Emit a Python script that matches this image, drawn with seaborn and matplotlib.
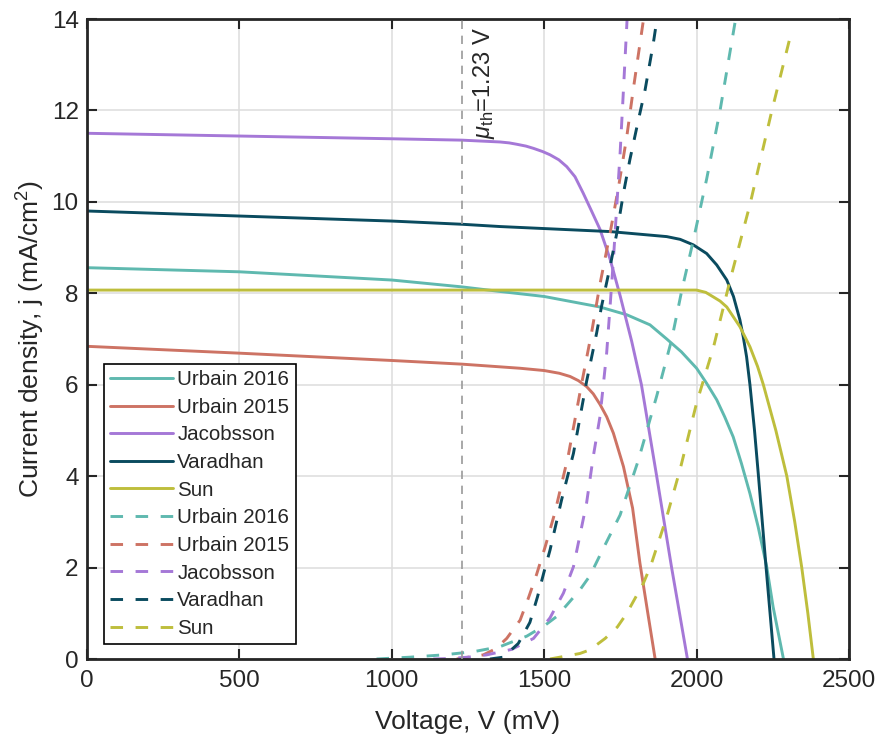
import matplotlib
matplotlib.use("Agg")
import matplotlib.pyplot as plt
import seaborn as sns
import pandas as pd

# ---------------- data ----------------
names = ["Urbain 2016", "Urbain 2015", "Jacobsson", "Varadhan", "Sun"]
colors = ["#5FB9AF", "#CD7364", "#A578D7", "#0A4B5F", "#BEBE3C"]

# PV (solid) curves: voltage (mV), current density (mA/cm2)
u16_pv_v = [0, 500, 1000, 1230, 1355, 1500, 1683, 1771, 1847, 1902, 1950, 2000, 2033, 2066, 2092, 2120, 2147, 2175, 2202, 2230, 2251, 2285]
u16_pv_j = [8.56, 8.47, 8.29, 8.14, 8.04, 7.93, 7.70, 7.53, 7.31, 7.0, 6.72, 6.36, 6.03, 5.67, 5.30, 4.86, 4.28, 3.62, 2.89, 2.02, 1.14, 0.0]

u15_pv_v = [0, 500, 1000, 1230, 1421, 1500, 1550, 1585, 1612, 1639, 1661, 1683, 1705, 1727, 1760, 1790, 1814, 1840, 1864]
u15_pv_j = [6.84, 6.69, 6.53, 6.45, 6.36, 6.31, 6.25, 6.18, 6.09, 5.96, 5.80, 5.57, 5.30, 4.94, 4.21, 3.30, 2.10, 1.0, 0.0]

jac_pv_v = [0, 500, 1000, 1230, 1355, 1385, 1410, 1440, 1465, 1495, 1519, 1548, 1574, 1601, 1628, 1656, 1683, 1716, 1749, 1787, 1819, 1869, 1918, 1970]
jac_pv_j = [11.50, 11.44, 11.38, 11.35, 11.31, 11.29, 11.26, 11.22, 11.17, 11.10, 11.03, 10.92, 10.77, 10.55, 10.19, 9.79, 9.40, 8.75, 7.95, 6.95, 6.0, 4.0, 2.0, 0.0]

var_pv_v = [0, 500, 1000, 1230, 1355, 1716, 1902, 1946, 1989, 2033, 2066, 2099, 2121, 2142, 2153, 2164, 2175, 2190, 2203, 2228, 2254]
var_pv_j = [9.80, 9.69, 9.58, 9.51, 9.46, 9.35, 9.24, 9.18, 9.06, 8.87, 8.62, 8.29, 7.93, 7.42, 7.05, 6.61, 6.0, 5.0, 4.0, 2.0, 0.0]

sun_pv_v = [0, 1000, 2000, 2030, 2055, 2077, 2099, 2120, 2142, 2175, 2200, 2219, 2260, 2296, 2322, 2345, 2365, 2383]
sun_pv_j = [8.07, 8.07, 8.07, 8.02, 7.92, 7.83, 7.70, 7.49, 7.27, 6.83, 6.40, 6.0, 5.0, 4.0, 3.0, 2.0, 1.0, 0.0]

# Electrolyser (dashed) curves
u16_ec_v = [950, 1060, 1169, 1268, 1355, 1443, 1503, 1541, 1574, 1617, 1650, 1694, 1749, 1809, 1869, 1918, 1951, 1989, 2033, 2077, 2128]
u16_ec_j = [0.0, 0.04, 0.09, 0.16, 0.27, 0.50, 0.74, 0.93, 1.18, 1.51, 1.82, 2.42, 3.15, 4.35, 5.75, 6.98, 8.05, 9.15, 10.5, 12.0, 14.0]

u15_ec_v = [1213, 1300, 1340, 1377, 1421, 1448, 1475, 1503, 1535, 1579, 1623, 1656, 1683, 1716, 1744, 1771, 1792, 1826]
u15_ec_j = [0.0, 0.09, 0.22, 0.45, 0.85, 1.33, 1.85, 2.45, 3.2, 4.45, 6.03, 7.16, 8.2, 9.31, 10.33, 11.43, 12.45, 14.0]

jac_ec_v = [1136, 1191, 1250, 1311, 1393, 1465, 1519, 1563, 1596, 1639, 1661, 1683, 1705, 1716, 1727, 1738, 1749, 1760, 1772]
jac_ec_j = [0.0, 0.01, 0.04, 0.09, 0.21, 0.45, 0.9, 1.44, 2.02, 3.41, 4.43, 5.3, 6.7, 7.7, 8.73, 9.9, 11.06, 12.45, 14.0]

var_ec_v = [1322, 1366, 1415, 1453, 1478, 1500, 1519, 1557, 1596, 1639, 1672, 1688, 1716, 1738, 1760, 1781, 1809, 1831, 1858, 1870]
var_ec_j = [0.0, 0.04, 0.34, 0.80, 1.36, 1.92, 2.38, 3.48, 4.50, 6.07, 7.13, 7.71, 8.58, 9.31, 10.19, 10.92, 11.79, 12.45, 13.47, 14.0]

sun_ec_v = [1519, 1617, 1650, 1700, 1740, 1771, 1800, 1825, 1850, 1902, 1946, 2000, 2055, 2110, 2175, 2246, 2313]
sun_ec_j = [0.0, 0.12, 0.2, 0.45, 0.7, 1.0, 1.35, 1.65, 2.05, 3.11, 4.15, 5.6, 6.81, 8.29, 9.94, 11.97, 13.77]

x_ticks = [0, 500, 1000, 1500, 2000, 2500]
y_ticks = [0, 2, 4, 6, 8, 10, 12, 14]
mu_th = 1230
annot = r"$\mu_{\mathrm{th}}$=1.23 V"
x_label = "Voltage, V (mV)"
y_label = "Current density, j (mA/cm$^2$)"

pv = [(u16_pv_v, u16_pv_j), (u15_pv_v, u15_pv_j), (jac_pv_v, jac_pv_j), (var_pv_v, var_pv_j), (sun_pv_v, sun_pv_j)]
ec = [(u16_ec_v, u16_ec_j), (u15_ec_v, u15_ec_j), (jac_ec_v, jac_ec_j), (var_ec_v, var_ec_j), (sun_ec_v, sun_ec_j)]

# ---------------- style ----------------
sns.set_theme(style="ticks")
plt.rcParams["font.family"] = ["Liberation Sans", "DejaVu Sans"]
plt.rcParams["mathtext.fontset"] = "custom"
plt.rcParams["mathtext.rm"] = "Liberation Sans"
plt.rcParams["mathtext.it"] = "Liberation Sans:italic"
plt.rcParams["mathtext.bf"] = "Liberation Sans:bold"

dark = "#262626"
fig = plt.figure(figsize=(8.75, 7.36), dpi=100)
ax = fig.add_axes([87 / 875, 1 - 659 / 736, 762 / 875, 640 / 736])

for (v, j), name, c in zip(pv, names, colors):
    df = pd.DataFrame({"V": v, "J": j})
    sns.lineplot(data=df, x="V", y="J", ax=ax, color=c, lw=2.1, label=name,
                 estimator=None, sort=False)
for (v, j), name, c in zip(ec, names, colors):
    df = pd.DataFrame({"V": v, "J": j})
    sns.lineplot(data=df, x="V", y="J", ax=ax, color=c, lw=2.1, label=name,
                 estimator=None, sort=False, linestyle=(0, (4.3, 4.3)))

ax.axvline(mu_th, color="#9a9a9a", lw=1.2, ls=(0, (5, 4)), zorder=3)
ax.text(1260, 13.82, annot, rotation=90, ha="left", va="top",
        fontsize=17, color=dark)

ax.set_xlim(0, 2500)
ax.set_ylim(0, 14)
ax.set_xticks(x_ticks)
ax.set_yticks(y_ticks)
ax.grid(True, color="#dddddd", lw=1.1)
ax.set_axisbelow(True)
ax.tick_params(direction="in", length=7, width=1.5, top=True, right=True,
               labelsize=17.5, colors=dark)
ax.tick_params(axis="x", pad=8)
ax.tick_params(axis="y", pad=6)
for s in ax.spines.values():
    s.set_visible(True)
    s.set_color(dark)
    s.set_linewidth(2.0)
ax.set_xlabel(x_label, fontsize=19, color=dark, labelpad=13)
ax.set_ylabel(y_label, fontsize=19, color=dark, labelpad=3)

leg = ax.legend(loc="upper left", bbox_to_anchor=(0.0223, 0.461), borderaxespad=0,
                fontsize=14.8, handlelength=3.07, handletextpad=0.2,
                labelspacing=0.42, borderpad=0.3, fancybox=False, framealpha=1,
                edgecolor="black")
leg.get_frame().set_linewidth(1.2)
for t in leg.get_texts():
    t.set_color(dark)

fig.savefig("out.png", dpi=100)
